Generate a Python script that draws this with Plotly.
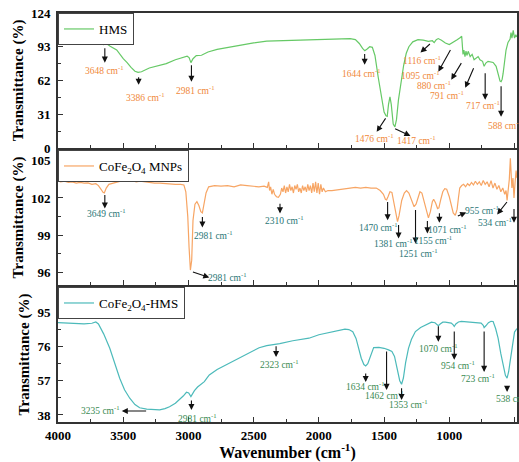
import plotly.graph_objects as go

# ---------------- data ----------------
hms_wn = [4000, 3900, 3800, 3720, 3690, 3660, 3648, 3635, 3600, 3550, 3500, 3470, 3440, 3410, 3386, 3360,
          3300, 3230, 3170, 3100, 3040, 3010, 2995, 2981, 2965, 2940, 2900, 2880, 2850, 2780, 2700, 2600,
          2500, 2400, 2300, 2200, 2100, 2000, 1900, 1800, 1760, 1720, 1690, 1665, 1648, 1630, 1610, 1590,
          1570, 1545, 1520, 1500, 1485, 1476, 1466, 1455, 1445, 1430, 1417, 1405, 1390, 1370, 1350, 1330,
          1310, 1280, 1240, 1200, 1160, 1130, 1116, 1100, 1085, 1060, 1030, 1000, 970, 940, 915, 905,
          895, 888, 880, 872, 865, 855, 840, 825, 810, 791, 779, 765, 745, 733, 720, 703, 680, 664,
          641, 625, 611, 603, 595, 588, 575, 565, 550, 534, 527, 520, 510, 500, 490, 481]
hms_t = [100.5, 100.5, 100.4, 100.3, 99.5, 97.5, 95.0, 96.5, 93.5, 90.0, 82.0, 78.5, 74.0, 70.5, 69.4, 70.0,
         73.5, 75.5, 77.5, 81.0, 83.5, 84.3, 83.0, 78.4, 82.0, 84.8, 85.2, 86.5, 88.2, 90.5, 92.3, 94.0,
         96.5, 98.2, 98.6, 98.8, 99.2, 99.8, 100.0, 100.5, 100.4, 99.5, 96.0, 91.5, 89.4, 91.0, 93.0, 92.5,
         85.0, 65.0, 45.0, 33.0, 29.5, 29.0, 40.0, 47.0, 40.0, 22.0, 19.4, 26.0, 44.0, 62.0, 76.0, 87.0,
         93.0, 97.5, 99.5, 99.0, 98.0, 98.5, 96.8, 99.5, 100.5, 99.0, 96.5, 95.0, 97.0, 99.5, 101.5, 102.6,
         86.0, 90.0, 84.0, 89.0, 85.0, 88.8, 84.0, 86.0, 81.0, 83.0, 84.0, 81.0, 79.6, 75.0, 78.0, 79.6, 79.0, 78.6,
         75.0, 68.0, 61.5, 61.0, 63.0, 68.0, 80.0, 90.0, 97.0, 100.0, 106.0, 101.0, 108.0, 101.0, 104.0, 102.0]

mnp_wn = [4000, 3980, 3950, 3920, 3890, 3860, 3830, 3800, 3770, 3740, 3710, 3690, 3670, 3655, 3645, 3630,
          3610, 3580, 3550, 3520, 3490, 3460, 3430, 3400, 3370, 3340, 3300, 3260, 3220, 3180, 3140, 3100,
          3060, 3035, 3020, 3005, 2995, 2985, 2975, 2965, 2950, 2935, 2920, 2905, 2893, 2880, 2865, 2845,
          2800, 2750, 2700, 2650, 2600, 2550, 2500, 2460, 2420, 2395, 2385, 2378, 2370, 2360, 2350, 2340,
          2325, 2310, 2295, 2285, 2275, 2265, 2255, 2245, 2235, 2225, 2215, 2205, 2195, 2185, 2175, 2165,
          2155, 2145, 2135, 2125, 2115, 2105, 2095, 2085, 2075, 2065, 2055, 2045, 2035, 2025, 2015, 2005,
          1995, 1985, 1975, 1965, 1950, 1930, 1900, 1870, 1840, 1800, 1760, 1720, 1680, 1640, 1600, 1560,
          1530, 1505, 1490, 1481, 1470, 1455, 1440, 1425, 1410, 1397, 1385, 1365, 1345, 1328, 1310, 1290,
          1270, 1255, 1240, 1225, 1210, 1190, 1175, 1160, 1145, 1130, 1120, 1105, 1090, 1080, 1065, 1050,
          1035, 1020, 1000, 985, 970, 954, 940, 930, 920, 905, 890, 875, 860, 845, 830, 815,
          800, 785, 770, 755, 740, 725, 710, 695, 680, 665, 650, 635, 620, 605, 590, 575,
          565, 557, 548, 540, 532, 526, 520, 512, 504, 496, 488, 481]
mnp_t = [103.4, 103.3, 103.35, 103.25, 103.3, 103.2, 103.25, 103.2, 103.22, 103.1, 103.15, 103.0, 102.7, 102.45, 102.4, 102.8,
         103.1, 103.2, 103.3, 103.35, 103.4, 103.35, 103.4, 103.3, 103.35, 103.3, 103.25, 103.2, 103.2, 103.15, 103.15, 103.1,
         103.1, 103.05, 102.5, 100.5, 98.0, 96.2, 97.0, 100.2, 101.5, 101.7, 101.4, 100.9, 100.8, 101.5, 102.4, 102.9,
         103.0, 102.95, 103.0, 102.9, 103.05, 103.0, 102.95, 102.9, 102.95, 102.85, 103.3, 102.6, 102.9, 102.3, 102.7, 102.3,
         102.1, 102.05, 102.3, 102.8, 102.5, 103.0, 102.4, 102.9, 102.5, 103.1, 102.6, 102.9, 102.4, 103.0, 102.7, 103.1,
         102.5, 102.8, 102.4, 103.0, 102.6, 102.9, 102.5, 103.1, 102.6, 103.0, 102.4, 103.2, 102.5, 103.3, 102.4, 103.2,
         102.3, 103.1, 102.5, 102.8, 102.5, 102.6, 102.6, 102.65, 102.7, 102.75, 102.8, 102.85, 102.8, 102.85, 102.8, 102.8,
         102.6, 102.3, 101.9, 101.85, 102.1, 102.5, 102.45, 101.6, 100.6, 100.1, 100.6, 101.8, 102.4, 102.6, 102.4, 101.9,
         101.3, 101.5, 102.1, 102.5, 102.4, 101.6, 100.8, 100.4, 100.9, 101.7, 101.9, 101.6, 101.15, 101.2, 101.9, 102.5,
         102.75, 102.7, 102.1, 101.3, 100.8, 100.6, 101.1, 102.0, 102.8, 103.0, 103.1, 102.9, 103.15, 103.0, 103.25, 103.05,
         103.35, 103.1, 103.3, 103.0, 103.4, 103.1, 103.3, 102.9, 103.4, 102.8, 103.2, 102.7, 103.0, 102.5, 102.8, 102.3,
         102.6, 101.8, 102.5, 103.5, 105.2, 104.0, 102.8, 103.6, 102.0, 103.2, 104.2, 103.6]

hyb_wn = [4000, 3900, 3800, 3740, 3710, 3690, 3650, 3603, 3560, 3527, 3490, 3450, 3410, 3374, 3320, 3260,
          3221, 3180, 3145, 3100, 3069, 3040, 3015, 2998, 2981, 2965, 2954, 2930, 2900, 2878, 2860, 2840,
          2780, 2710, 2630, 2557, 2500, 2458, 2400, 2340, 2323, 2300, 2200, 2100, 2076, 2000, 1947, 1870,
          1800, 1770, 1740, 1715, 1695, 1675, 1655, 1641, 1625, 1605, 1580, 1540, 1500, 1466, 1440, 1420,
          1400, 1380, 1366, 1352, 1335, 1313, 1290, 1260, 1220, 1183, 1137, 1110, 1095, 1084, 1070, 1050,
          1031, 1000, 985, 970, 962, 950, 930, 908, 850, 800, 756, 740, 733, 720, 700, 680,
          664, 645, 626, 605, 585, 570, 557, 545, 535, 527, 515, 500, 481]
hyb_t = [89.3, 88.8, 88.6, 88.9, 89.6, 88.5, 83.0, 75.0, 66.0, 58.4, 52.0, 47.3, 43.8, 42.0, 41.2, 40.9,
         40.8, 41.5, 42.6, 44.5, 46.3, 48.5, 50.6, 50.2, 48.2, 50.5, 51.5, 53.5, 55.2, 56.5, 58.3, 60.2,
         63.2, 65.8, 68.7, 71.3, 73.8, 75.3, 76.5, 77.2, 77.0, 77.6, 79.2, 80.3, 80.6, 82.5, 83.4, 84.5,
         85.6, 85.4, 84.2, 80.5, 75.0, 69.5, 66.0, 65.2, 66.5, 71.0, 75.4, 75.5, 75.0, 74.1, 73.2, 70.5,
         64.0, 57.0, 55.0, 58.5, 67.0, 75.0, 80.0, 84.3, 86.5, 88.0, 89.5, 89.2, 88.0, 87.6, 88.5, 89.5,
         89.5, 89.3, 89.0, 88.0, 87.1, 88.5, 89.6, 89.9, 89.7, 89.3, 89.0, 87.8, 86.5, 87.5, 89.2, 90.0,
         89.9, 86.0, 80.6, 72.0, 64.0, 60.0, 58.4, 62.0, 67.0, 71.3, 78.0, 84.0, 86.0]

# annotations: label, peak (tail) wn/T, arrow head wn/T, text wn/T
hms_notes = [
    ("3648", 3641, 93.1, 3641, 78.4, 3641, 71.9),
    ("3386", 3382, 66.4, 3382, 58.1, 3328, 47.0),
    ("2981", 2977, 77.4, 2977, 60.8, 2946, 53.5),
    ("1644", 1649, 87.6, 1649, 76.5, 1672, 69.1),
    ("1476", 1481, 28.6, 1557, 14.8, 1572, 9.2),
    ("1417", 1427, 18.4, 1298, 11.1, 1252, 7.4),
    ("1116", 1137, 96.8, 1221, 87.6, 1206, 81.1),
    ("1095", 985, 91.3, 1084, 70.1, 1221, 67.3),
    ("880", 901, 79.3, 985, 62.7, 1114, 58.1),
    ("791", 809, 74.7, 878, 55.3, 1015, 48.9),
    ("717", 725, 70.1, 725, 44.3, 740, 39.6),
    ("588", 603, 58.1, 603, 28.6, 572, 21.2),
]
mnp_notes = [
    ("3649", 3641, 102.37, 3641, 101.16, 3626, 100.76),
    ("2981", 2893, 100.6, 2893, 99.63, 2809, 99.06),
    ("2981", 2977, 96.08, 2840, 95.6, 2702, 95.68),
    ("2310", 2298, 101.65, 2298, 100.76, 2267, 100.2),
    ("1470", 1473, 101.8, 1473, 100.2, 1542, 99.7),
    ("1381", 1389, 99.95, 1389, 98.74, 1427, 98.34),
    ("1251", 1259, 101.16, 1259, 98.34, 1236, 97.6),
    ("1155", 1168, 100.27, 1168, 99.15, 1122, 98.6),
    ("1071", 1076, 100.9, 1076, 100.0, 1015, 99.5),
    ("955", 946, 100.5, 870, 100.84, 748, 101.0),
    ("534", 549, 101.8, 633, 100.68, 649, 100.1),
    ("493", 504, 101.24, 504, 100.0, 470, 99.4),
]
hyb_notes = [
    ("3235", 3313, 40.2, 3511, 40.2, 3672, 40.8),
    ("2981", 2977, 46.9, 2977, 40.8, 2931, 36.3),
    ("2323", 2328, 76.9, 2328, 70.2, 2305, 66.3),
    ("1634", 1641, 61.9, 1641, 56.3, 1641, 54.2),
    ("1462", 1481, 74.1, 1481, 51.9, 1500, 49.1),
    ("1353", 1366, 53.6, 1366, 46.3, 1313, 44.1),
    ("1070", 1084, 88.0, 1084, 78.6, 1084, 75.2),
    ("954", 962, 85.2, 962, 68.6, 931, 65.8),
    ("723", 733, 85.2, 733, 61.9, 779, 58.6),
    ("538", 557, 54.7, 557, 50.8, 511, 47.4),
]

# ---------------- style ----------------
FONT = "Liberation Serif"
c_hms, c_hms_txt = "#66c966", "#f0883a"
c_mnp, c_mnp_txt = "#f7a564", "#2a7676"
c_hyb, c_hyb_txt = "#4cbaba", "#3a8a52"
XR = [4000, 481]
domains = {"top": [0.670, 1.0], "mid": [0.335, 0.665], "bot": [0.0, 0.330]}

fig = go.Figure()
fig.add_trace(go.Scatter(x=hms_wn, y=hms_t, mode="lines", name="HMS",
                         line=dict(color=c_hms, width=1.2), xaxis="x", yaxis="y", legend="legend"))
fig.add_trace(go.Scatter(x=mnp_wn, y=mnp_t, mode="lines", name="CoFe<sub>2</sub>O<sub>4</sub> MNPs",
                         line=dict(color=c_mnp, width=1.2), xaxis="x2", yaxis="y2", legend="legend2"))
fig.add_trace(go.Scatter(x=hyb_wn, y=hyb_t, mode="lines", name="CoFe<sub>2</sub>O<sub>4</sub>-HMS",
                         line=dict(color=c_hyb, width=1.2), xaxis="x3", yaxis="y3", legend="legend3"))

annos = []
for notes, xr, yr, col in [(hms_notes, "x", "y", c_hms_txt), (mnp_notes, "x2", "y2", c_mnp_txt),
                           (hyb_notes, "x3", "y3", c_hyb_txt)]:
    for lab, pw, pt, hw, ht, tw, tt in notes:
        annos.append(dict(x=hw, y=ht, ax=pw, ay=pt, xref=xr, yref=yr, axref=xr, ayref=yr,
                          text="", showarrow=True, arrowhead=2, arrowsize=1.1, arrowwidth=1.1,
                          arrowcolor="#111111", standoff=0, startstandoff=0))
        annos.append(dict(x=tw, y=tt, xref=xr, yref=yr, showarrow=False,
                          text=lab + " cm<sup>-1</sup>", xanchor="center", yanchor="middle",
                          font=dict(family=FONT, size=9.5, color=col)))

tickfont = dict(family=FONT, size=13, color="black", weight="bold")
titlefont = dict(family=FONT, size=15, color="black", weight="bold")


def xaxis(anchor, dom_show_labels, title=None):
    d = dict(range=XR, anchor=anchor, showline=True, mirror=True, linewidth=1.6, linecolor="#333333",
             ticks="inside", ticklen=5, tickwidth=1.2, tickcolor="#333333", dtick=500, tick0=0,
             minor=dict(ticks="inside", ticklen=3, dtick=250, tick0=0, tickcolor="#333333"),
             showgrid=False, zeroline=False, showticklabels=dom_show_labels, tickfont=tickfont,
             ticklabelstandoff=1)
    if title:
        d["title"] = dict(text=title, font=dict(family=FONT, size=16, color="black", weight="bold"),
                          standoff=5)
    return d


def yaxis(anchor, dom, rng, t0, dt):
    return dict(domain=dom, range=rng, anchor=anchor, showline=True, mirror=True, linewidth=1.6,
                linecolor="#333333", ticks="inside", ticklen=5, tickwidth=1.2, tickcolor="#333333",
                tick0=t0, dtick=dt, minor=dict(ticks="inside", ticklen=3, dtick=dt / 2, tick0=t0,
                                              tickcolor="#333333"),
                showgrid=False, zeroline=False, tickfont=tickfont, ticklabelstandoff=3,
                title=dict(text="Transmittance (%)", font=titlefont, standoff=4))


def legend(ytop):
    return dict(x=0.0, y=ytop, xanchor="left", yanchor="top", xref="paper", yref="paper",
                bgcolor="white", bordercolor="#444444", borderwidth=1,
                font=dict(family=FONT, size=13, color="black"), itemwidth=30,
                tracegroupgap=0)


fig.update_layout(
    width=519, height=462, margin=dict(l=58, r=0, t=13, b=40),
    paper_bgcolor="white", plot_bgcolor="white", showlegend=True,
    xaxis=xaxis("y", False), xaxis2=xaxis("y2", False), xaxis3=xaxis("y3", True, "Wavenumber (cm<sup>-1</sup>)"),
    yaxis=yaxis("x", domains["top"], [0, 124], 0, 31),
    yaxis2=yaxis("x2", domains["mid"], [95.0, 105.86], 96, 3),
    yaxis3=yaxis("x3", domains["bot"], [34.1, 109.0], 38, 19),
    legend=legend(domains["top"][1]), legend2=legend(domains["mid"][1]), legend3=legend(domains["bot"][1]),
    annotations=annos,
)

fig.write_html("out.html")
